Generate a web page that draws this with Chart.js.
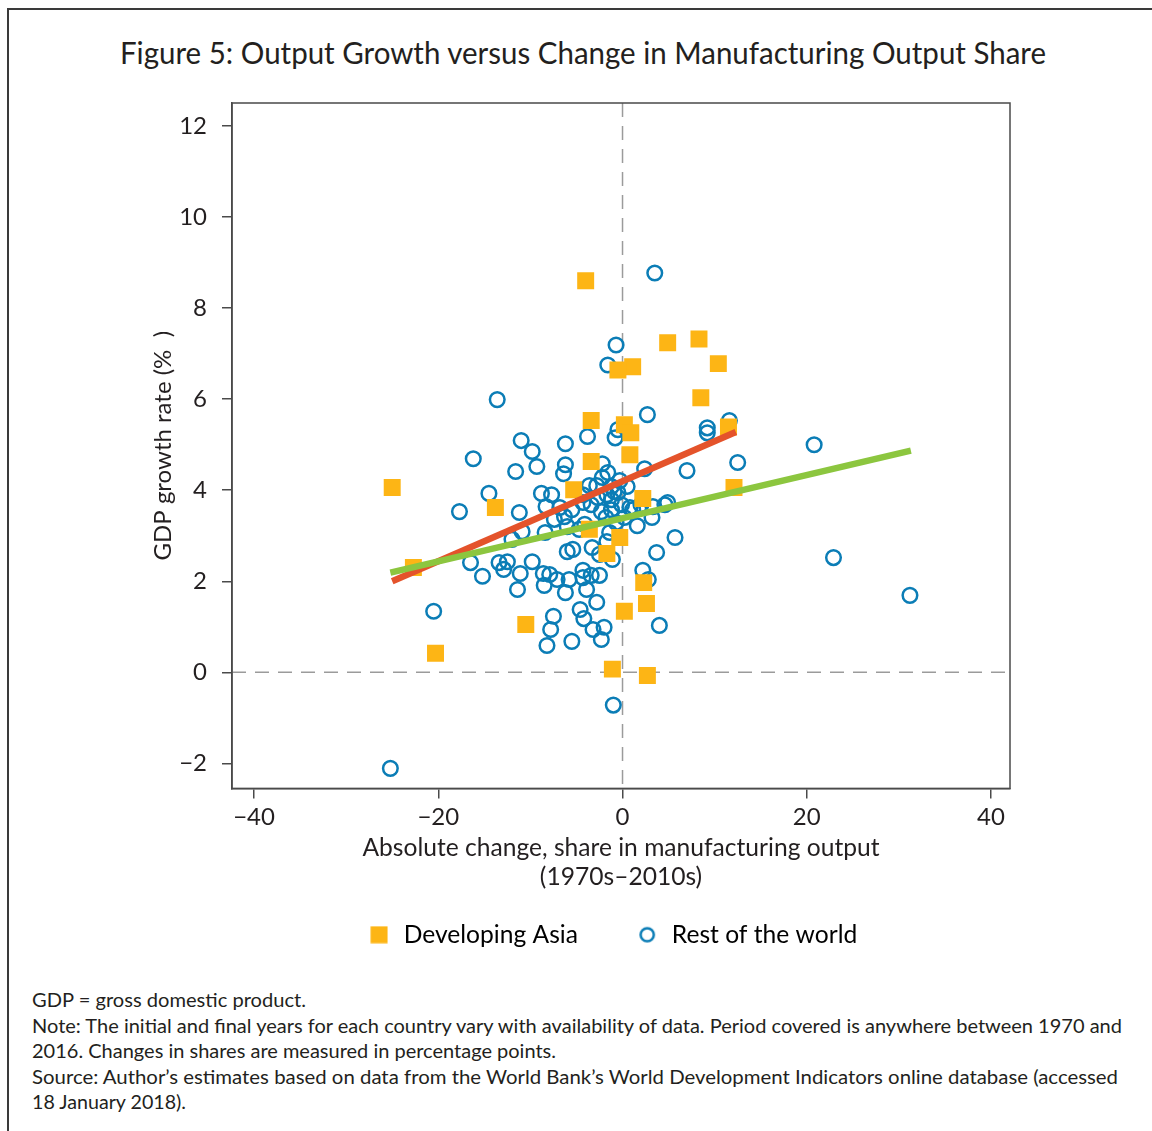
<!DOCTYPE html>
<html>
<head>
<meta charset="utf-8">
<script src="https://cdn.jsdelivr.net/npm/chart.js@4.4.1/dist/chart.umd.min.js"></script>
<style>
  html, body { margin: 0; padding: 0; background: #fff; }
  body { width: 1152px; height: 1131px; position: relative; overflow: hidden;
         font-family: Lato, "Open Sans", sans-serif; color: #231f20; }
  #frame { position: absolute; left: 7px; top: 8px; width: 1200px; height: 1200px;
           border-left: 2px solid #3a3a3a; border-top: 2px solid #3a3a3a; }
  #title { position: absolute; left: 120px; top: 33px; font-size: 31px; line-height: 38px;
           white-space: nowrap; transform-origin: 0 50%; }
  #notes { position: absolute; left: 32px; top: 987px; font-size: 19.5px; line-height: 25.6px; }
  #notes div { white-space: nowrap; transform-origin: 0 50%; width: max-content; }
  #chartBox { position: absolute; left: 0; top: 0; }
</style>
</head>
<body>
<div id="frame"></div>
<div id="title">Figure 5: Output Growth versus Change in Manufacturing Output Share</div>
<div id="chartBox"><canvas id="chart" width="1152" height="957"></canvas></div>
<div id="notes">
  <div>GDP = gross domestic product.</div>
  <div>Note: The initial and final years for each country vary with availability of data. Period covered is anywhere between 1970 and</div>
  <div>2016. Changes in shares are measured in percentage points.</div>
  <div>Source: Author’s estimates based on data from the World Bank’s World Development Indicators online database (accessed</div>
  <div>18 January 2018).</div>
</div>
<script>
// Series names
const seriesNames = ['Developing Asia', 'Rest of the world'];

// Developing Asia: change in manufacturing share (pp) and GDP growth (%)
const asiaX = [-4.0, 8.3, 4.9, 10.4, 1.1, -0.5, 8.5, -3.4, 0.2, 0.9, 11.5, 0.8, -3.4, -5.3, -25.0,
               12.1, 2.2, -13.8, -3.6, -0.3, -22.7, -1.7, 2.3, 2.6, 0.2, -10.5, -20.3, -1.1, 2.7];
const asiaY = [8.6, 7.32, 7.24, 6.78, 6.71, 6.64, 6.03, 5.53, 5.44, 5.26, 5.39, 4.78, 4.63, 4.01, 4.06,
               4.06, 3.82, 3.62, 3.14, 2.96, 2.30, 2.61, 1.97, 1.51, 1.34, 1.05, 0.42, 0.07, -0.07];

// Rest of the world
const worldX = [3.5, -0.7, -1.6, -13.6, 2.7, 11.6, 9.2, 9.2, -0.5, -0.8, -3.8, -6.2, -11.0, 20.8, -9.8,
                -16.2, -9.3, -11.6, -6.2, -6.4, -2.2, -1.6, -2.2, 2.4, 7.0, 12.5, -0.3, 0.5, -14.5, -8.8,
                -7.7, -4.3, -2.7, -1.7, -0.9, -1.2, -0.5, -8.3, -6.8, -5.5, -4.3, -3.4, -2.3, -1.2, -0.1,
                0.8, 3.3, 4.6, 4.9, 3.2, 1.6, -6.3, -17.7, -11.2, -10.9, -12.0, -8.4, 5.7, -1.4, -4.1,
                -6.0, -5.4, -3.3, -2.5, -1.1, 3.7, -16.5, -15.2, -13.4, -12.5, -12.9, -9.8, -11.1, -11.4, -8.6,
                -7.9, -7.1, -8.5, -6.2, -5.8, -4.3, -4.3, -3.4, -2.5, -3.9, -2.8, -4.6, -4.2, -7.5, -7.8,
                -8.2, -5.5, -3.2, -2.0, -2.3, 2.2, 2.8, 4.0, -20.5, -25.2, -1.0, 22.9, 31.2, -3.6, -2.8,
                -1.2, -1.8, -0.7, 0.2, 1.1, 2.0, -4.7, -6.0, -7.4, -1.7];
const worldY = [8.77, 7.19, 6.75, 5.99, 5.66, 5.53, 5.37, 5.26, 5.33, 5.15, 5.18, 5.02, 5.09, 5.0, 4.85,
                4.69, 4.52, 4.41, 4.56, 4.36, 4.58, 4.39, 4.28, 4.47, 4.43, 4.61, 4.21, 4.08, 3.93, 3.93,
                3.9, 3.9, 3.84, 3.9, 3.97, 3.79, 3.95, 3.64, 3.62, 3.57, 3.73, 3.68, 3.53, 3.57, 3.68,
                3.62, 3.64, 3.68, 3.73, 3.4, 3.22, 3.42, 3.53, 3.51, 3.09, 2.92, 3.07, 2.96, 3.07, 3.25,
                2.65, 2.7, 2.74, 2.59, 2.48, 2.63, 2.41, 2.11, 2.41, 2.43, 2.26, 2.43, 2.17, 1.82, 2.17,
                2.15, 2.04, 1.91, 1.75, 2.04, 2.24, 2.08, 2.13, 2.13, 1.82, 1.54, 1.38, 1.18, 1.23, 0.94,
                0.59, 0.68, 0.94, 0.99, 0.72, 2.24, 2.04, 1.03, 1.34, -2.11, -0.72, 2.52, 1.69, 4.1, 4.1,
                4.08, 3.4, 3.29, 3.4, 3.57, 3.68, 3.14, 3.2, 3.36, 2.87];

// Fitted lines (end points)
const asiaFitX = [-25.0, 12.3];
const asiaFitY = [2.0, 5.28];
const worldFitX = [-25.2, 31.3];
const worldFitY = [2.19, 4.87];

// Axis ticks
const xTicks = [-40, -20, 0, 20, 40];
const xTickLabels = ['−40', '−20', '0', '20', '40'];
const yTicks = [-2, 0, 2, 4, 6, 8, 10, 12];
const yTickLabels = ['−2', '0', '2', '4', '6', '8', '10', '12'];

const ORANGE = '#fdb515';
const BLUE = '#0b7db6';
const RED = '#e4532b';
const GREEN = '#8cc63f';
const INK = '#231f20';
const AXIS = '#4a4a4a';

const pts = (xs, ys) => xs.map((x, i) => ({ x, y: ys[i] }));

// Legend icons
function squareIcon() {
  const c = document.createElement('canvas'); c.width = 18; c.height = 18;
  const g = c.getContext('2d'); g.fillStyle = ORANGE; g.fillRect(0.5, 0.5, 17, 17);
  return c;
}
function circleIcon() {
  const c = document.createElement('canvas'); c.width = 20; c.height = 20;
  const g = c.getContext('2d'); g.strokeStyle = BLUE; g.lineWidth = 2.5;
  g.beginPath(); g.arc(10, 10, 6.6, 0, Math.PI * 2); g.stroke();
  return c;
}

// Dashed zero lines and the plot frame
const framePlugin = {
  id: 'framePlugin',
  beforeDatasetsDraw(chart) {
    const { ctx, chartArea: a, scales: { x, y } } = chart;
    const px = x.getPixelForValue(0), py = y.getPixelForValue(0);
    ctx.save();
    ctx.strokeStyle = '#9b9b9b'; ctx.lineWidth = 1.5; ctx.setLineDash([14, 9]);
    ctx.beginPath();
    ctx.moveTo(px, a.top); ctx.lineTo(px, a.bottom);
    ctx.moveTo(a.left, py); ctx.lineTo(a.right, py);
    ctx.stroke();
    ctx.restore();
  },
  afterDraw(chart) {
    const { ctx, chartArea: a } = chart;
    ctx.save();
    ctx.strokeStyle = AXIS; ctx.lineWidth = 1.5;
    ctx.strokeRect(a.left, a.top, a.right - a.left, a.bottom - a.top);
    ctx.restore();
  }
};

// Nudge the legend row slightly left of the plot centre
const legendNudge = {
  id: 'legendNudge',
  afterLayout(chart) {
    const l = chart.legend;
    if (l) { l.left -= 9; l.right -= 9; }
  }
};

Chart.defaults.font.family = 'Lato, "Open Sans", sans-serif';
Chart.defaults.color = INK;

new Chart(document.getElementById('chart'), {
  type: 'scatter',
  data: {
    datasets: [
      { label: seriesNames[1] + ' fit', data: pts(worldFitX, worldFitY), showLine: true,
        borderColor: GREEN, borderWidth: 6.5, pointRadius: 0, order: 0 },
      { label: seriesNames[0] + ' fit', data: pts(asiaFitX, asiaFitY), showLine: true,
        borderColor: RED, borderWidth: 6.5, pointRadius: 0, order: 1 },
      { label: seriesNames[0], data: pts(asiaX, asiaY), pointStyle: 'rect', pointRadius: 12,
        backgroundColor: ORANGE, borderWidth: 0, order: 2 },
      { label: seriesNames[1], data: pts(worldX, worldY), pointStyle: 'circle', pointRadius: 7.3,
        backgroundColor: 'rgba(0,0,0,0)', borderColor: BLUE, borderWidth: 2.5, order: 3 }
    ]
  },
  options: {
    responsive: false,
    animation: false,
    devicePixelRatio: 1,
    layout: { padding: { top: 103, left: 142, right: 142, bottom: 0 } },
    plugins: {
      tooltip: { enabled: false },
      legend: {
        position: 'bottom',
        fullSize: false,
        labels: {
          usePointStyle: true,
          padding: 57,
          font: { size: 24.6 },
          color: INK,
          generateLabels: () => [
            { text: seriesNames[0], pointStyle: squareIcon(), fillStyle: ORANGE, strokeStyle: ORANGE,
              lineWidth: 0, hidden: false, datasetIndex: 2 },
            { text: seriesNames[1], pointStyle: circleIcon(), fillStyle: 'rgba(0,0,0,0)', strokeStyle: BLUE,
              lineWidth: 0, hidden: false, datasetIndex: 3 }
          ]
        }
      }
    },
    scales: {
      x: {
        type: 'linear', min: -42.39, max: 42.06,
        afterBuildTicks: s => { s.ticks = xTicks.map(v => ({ value: v })); },
        afterFit: s => { s.height = 77; },
        ticks: { font: { size: 24 }, color: INK, padding: 4,
                 callback: v => xTickLabels[xTicks.indexOf(v)] },
        grid: { drawOnChartArea: false, drawTicks: true, tickLength: 10, color: AXIS, lineWidth: 1.5 },
        border: { display: true, color: AXIS, width: 1.5 },
        title: { display: true, text: ['Absolute change, share in manufacturing output', '(1970s–2010s)'],
                 font: { size: 24.6, lineHeight: 1.17 }, color: INK, padding: { top: 0, bottom: -26 } }
      },
      y: {
        type: 'linear', min: -2.55, max: 12.505,
        afterBuildTicks: s => { s.ticks = yTicks.map(v => ({ value: v })); },
        afterFit: s => { s.width = 90; },
        ticks: { font: { size: 24 }, color: INK, padding: 15,
                 callback: v => yTickLabels[yTicks.indexOf(v)] },
        grid: { drawOnChartArea: false, drawTicks: true, tickLength: 10, color: AXIS, lineWidth: 1.5 },
        border: { display: true, color: AXIS, width: 1.5 },
        title: { display: true, text: 'GDP growth rate (%  )',
                 font: { size: 24, lineHeight: 1.2 }, color: INK, padding: { top: 7, bottom: 0 } }
      }
    }
  },
  plugins: [framePlugin, legendNudge]
});

// Condense the heading and note lines to their set widths
function fitWidth(el, target) {
  const w = el.getBoundingClientRect().width;
  if (w > 0) el.style.transform = 'scaleX(' + (target / w) + ')';
}
fitWidth(document.getElementById('title'), 926);
const noteWidths = [274, 1090, 524, 1086, 154];
document.querySelectorAll('#notes div').forEach((d, i) => fitWidth(d, noteWidths[i]));
</script>
</body>
</html>
